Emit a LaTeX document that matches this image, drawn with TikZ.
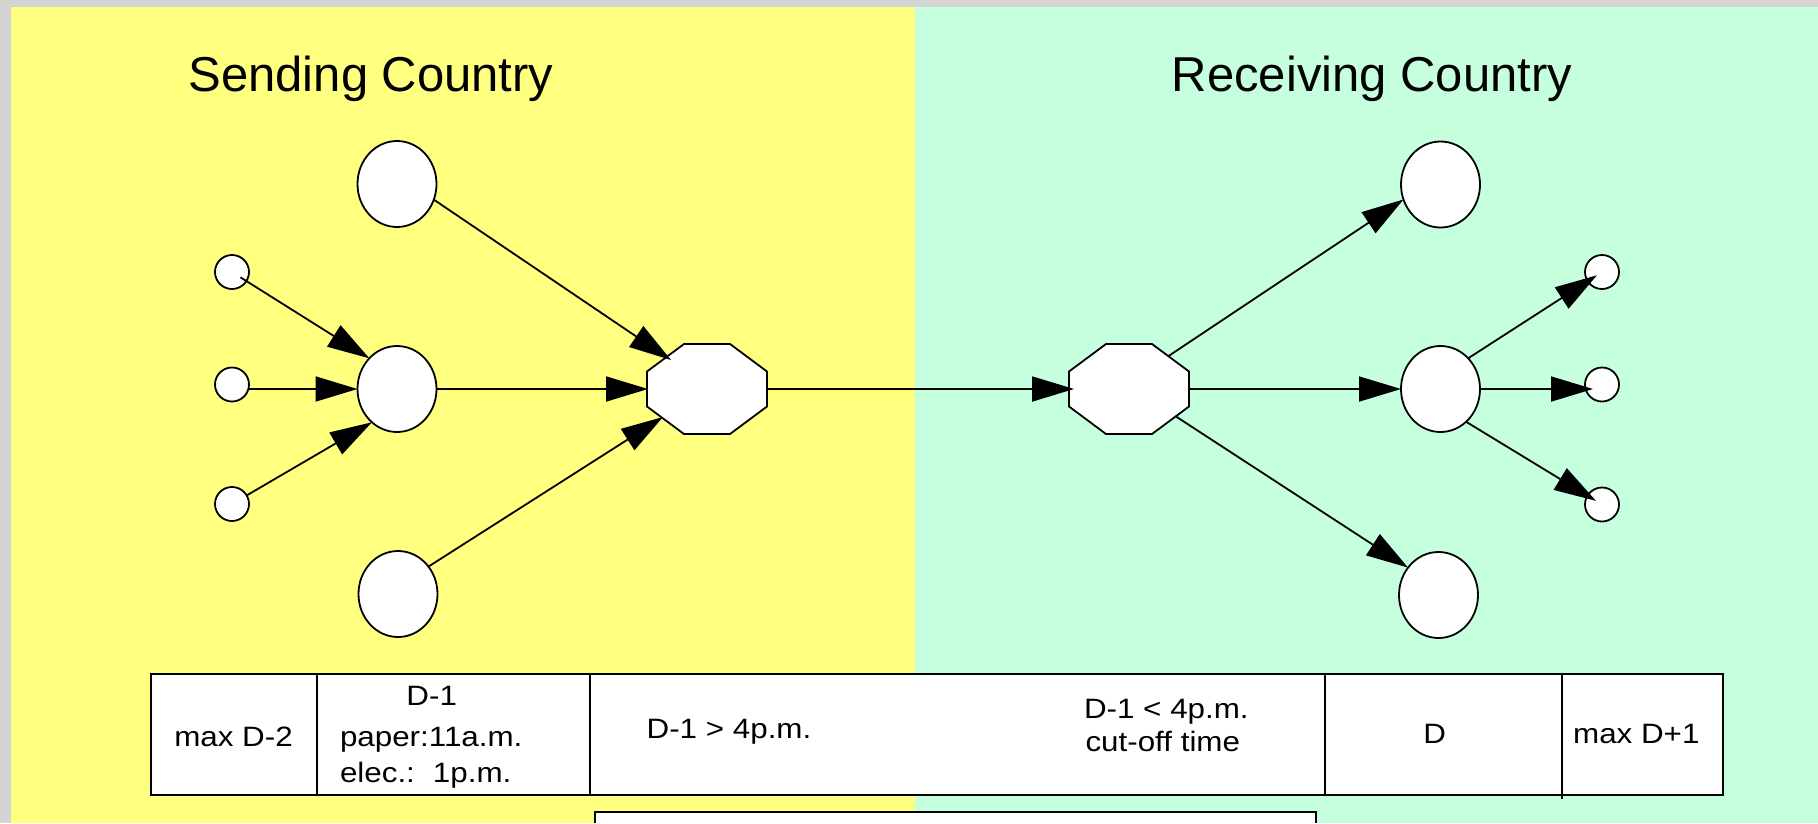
\documentclass[tikz,border=0pt]{standalone}
\usepackage{fontspec}
\setmainfont{Liberation Sans}
\newfontfamily\tabfont{Liberation Sans}[FakeStretch=1.12]
\usetikzlibrary{shapes.geometric,arrows.meta}
\definecolor{bggray}{RGB}{212,212,212}
\definecolor{sendyellow}{RGB}{255,255,128}
\definecolor{recvgreen}{RGB}{198,255,222}
\newcommand{\drawoct}[1]{%
  \draw[fill=white, line width=1.8pt]
    ([shift={(-23,-45)}]#1.center) -- ([shift={(23,-45)}]#1.center) --
    ([shift={(60,-17.5)}]#1.center) -- ([shift={(60,17.5)}]#1.center) --
    ([shift={(23,45)}]#1.center) -- ([shift={(-23,45)}]#1.center) --
    ([shift={(-60,17.5)}]#1.center) -- ([shift={(-60,-17.5)}]#1.center) -- cycle;}
\begin{document}
\begin{tikzpicture}[x=1pt,y=-1pt,
  every node/.style={inner sep=0pt, outer sep=0pt},
  ln/.style={line width=1.8pt},
  bigc/.style={ellipse, draw, fill=white, line width=1.8pt, minimum width=79pt, minimum height=86pt},
  smallc/.style={circle, draw, fill=white, line width=1.8pt, minimum size=34pt},
  octbox/.style={rectangle, minimum width=120pt, minimum height=90pt},
  arr/.style={line width=1.8pt, -{Triangle[length=42pt,width=25pt]}},
  title/.style={font=\fontsize{49}{58}\selectfont, anchor=base},
  cell/.style={font=\tabfont\fontsize{28}{33}\selectfont},
]
\useasboundingbox (0,0) rectangle (1818,823);
\fill[bggray] (0,0) rectangle (1818,823);
\fill[sendyellow] (11,7) rectangle (915,823);
\fill[recvgreen] (915,7) rectangle (1818,823);

% titles
\node[title] (tS) at (371,91.7) {Sending Country};
\node[title] (tR) at (1372,91.7) {Receiving Country};

% sending side nodes
\node[smallc] (sA) at (232,272) {};
\node[smallc] (sB) at (232,384.5) {};
\node[smallc] (sC) at (232,504) {};
\node[bigc] (bT) at (397,184) {};
\node[bigc] (bM) at (397,389) {};
\node[bigc] (bB) at (398,594) {};
\node[octbox] (oL) at (707,389) {};
\drawoct{oL}

% receiving side nodes
\node[octbox] (oR) at (1129,389) {};
\drawoct{oR}
\node[bigc] (rT) at (1440.5,184.5) {};
\node[bigc] (rM) at (1440.5,389) {};
\node[bigc] (rB) at (1438.5,595) {};
\node[smallc] (rs1) at (1602,272) {};
\node[smallc] (rs2) at (1602,384.5) {};
\node[smallc] (rs3) at (1602,504.5) {};

% octagon ports
\coordinate (oLinT) at ([shift={(-36,-29)}]oL.center);
\coordinate (oLinM) at ([shift={(-59,0)}]oL.center);
\coordinate (oLinB) at ([shift={(-44,28)}]oL.center);
\coordinate (oLout) at ([shift={(60,0)}]oL.center);
\coordinate (oRin) at ([shift={(-55,0)}]oR.center);
\coordinate (oRoutT) at ([shift={(39.5,-33)}]oR.center);
\coordinate (oRoutM) at ([shift={(60,0)}]oR.center);
\coordinate (oRoutB) at ([shift={(47,27.5)}]oR.center);

% connectors, sending side
\draw[arr, shorten <=10pt] (sA.center) -- (bM.132);
\draw[arr] (sB.east |- bM.west) -- (bM.west);
\draw[arr] (sC) -- (bM.233);
\draw[arr] (bT.-23) -- (oLinT);
\draw[arr] (bM.east) -- (oLinM);
\draw[arr] (bB.42) -- (oLinB);
\draw[arr] (oLout) -- (oRin);

% connectors, receiving side
\draw[arr] (oRoutT) -- (rT.202);
\draw[arr] (oRoutM) -- (rM.west);
\draw[arr] (oRoutB) -- (rB.138);
\draw[arr, shorten >=6pt] (rM.48) -- (rs1.center);
\draw[arr, shorten >=9pt] (rM.east) -- (rM.east -| rs2.center);
\draw[arr, shorten >=7pt] (rM.-52) -- (rs3.center);

% timeline table
\draw[ln, fill=white] (151,674) rectangle (1723,795);
\draw[ln] (316.7,674) -- (316.7,795);
\draw[ln] (590,674) -- (590,795);
\draw[ln] (1325,674) -- (1325,795);
\draw[ln] (1561.7,674) -- (1561.7,798.5);

\node[cell, anchor=base] (c1) at (233.5,746) {max D-2};
\node[cell, anchor=base] (c2a) at (431.7,705.7) {D-1};
\node[cell, anchor=base west] (c2b) at (340,746) {paper:11a.m.};
\node[cell, anchor=base west] (c2c) at (340,782) {elec.:\hspace{18pt}1p.m.};
\node[cell, anchor=base] (c3) at (729,738.5) {D-1 > 4p.m.};
\node[cell, anchor=base west] (c4a) at (1084,718.5) {D-1 < 4p.m.};
\node[cell, anchor=base west] (c4b) at (1085.5,751) {cut-off time};
\node[cell, anchor=base] (c5) at (1434.7,743.5) {D};
\node[cell, anchor=base] (c6) at (1636.3,743.5) {max D+1};

% lower box (cut off by the bottom edge)
\draw[ln, fill=white] (595,823) -- (595,811.7) -- (1316,811.7) -- (1316,823);
\end{tikzpicture}
\end{document}
